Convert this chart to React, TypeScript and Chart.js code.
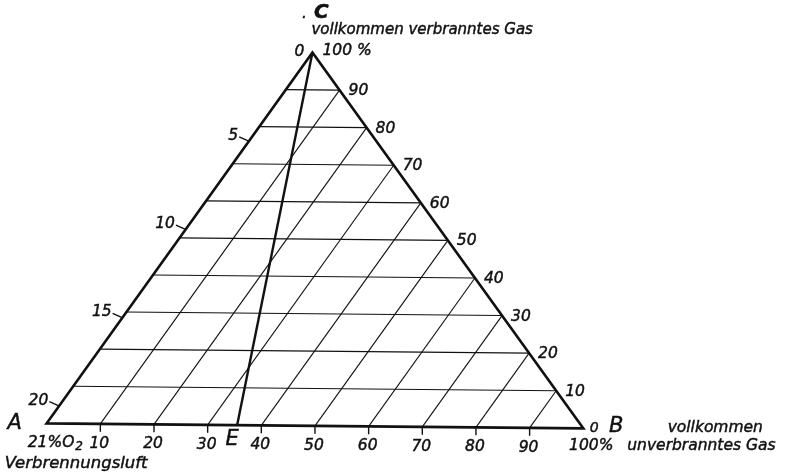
import React, { useEffect, useRef } from "react";
import { Chart, registerables } from "chart.js";

Chart.register(...registerables);

// Completely burnt gas (corner C), percent: horizontal grid lines and right-edge labels
const BURNT_LEVELS = [10, 20, 30, 40, 50, 60, 70, 80, 90];
const BURNT_LABELS = ["10", "20", "30", "40", "50", "60", "70", "80", "90"];
// Unburnt gas (corner B), percent: slanted grid lines and base labels
const UNBURNT_LEVELS = [10, 20, 30, 40, 50, 60, 70, 80, 90];
const UNBURNT_LABELS = ["10", "20", "30", "40", "50", "60", "70", "80", "90"];
// Oxygen scale along the air edge: 0 % at C, 21 % at A
const O2_MAX = 21;
const O2_TICKS = [5, 10, 15, 20];
const O2_LABELS = ["5", "10", "15", "20"];
// Point E on the base (percent unburnt gas), joined to C
const E_UNBURNT = 35.5;

// Triangle corners in chart units (A at the origin)
const CORNER_B = { x: 100, y: -1.35 };
const CORNER_C = { x: 49.53, y: 100 };
// Visible window of the chart
const X_MIN = -8.7;
const X_MAX = 137.78;
const Y_MIN = -13.94;
const Y_MAX = 114.16;

// Ternary point from percent unburnt gas (b) and percent burnt gas (c)
function tern(b: number, c: number) {
  return {
    x: (b / 100) * CORNER_B.x + (c / 100) * CORNER_C.x,
    y: (b / 100) * CORNER_B.y + (c / 100) * CORNER_C.y,
  };
}

const INK = "#111111";
const FONT = '"DejaVu Sans"';

function lineSet(points: { x: number; y: number }[], width: number) {
  return {
    data: points,
    showLine: true,
    borderColor: INK,
    borderWidth: width,
    pointRadius: 0,
    borderJoinStyle: "miter" as const,
    fill: false,
  };
}

const A = tern(0, 0);
const B = tern(100, 0);
const C = tern(0, 100);
const E = tern(E_UNBURNT, 0);

const datasets = [
  ...BURNT_LEVELS.map((c) => lineSet([tern(0, c), tern(100 - c, c)], 1.1)),
  ...UNBURNT_LEVELS.map((b) => lineSet([tern(b, 0), tern(b, 100 - b)], 1.1)),
  lineSet([A, B, C, A, B], 2.7),
  lineSet([C, E], 2.4),
];

const labelPlugin = {
  id: "ternaryLabels",
  afterDatasetsDraw(chart: any) {
    const ctx: CanvasRenderingContext2D = chart.ctx;
    const sx = chart.scales.x;
    const sy = chart.scales.y;
    const px = (p: { x: number; y: number }) => ({
      x: sx.getPixelForValue(p.x),
      y: sy.getPixelForValue(p.y),
    });
    // italic lettering, with a hairline outline for a slightly heavier pen stroke
    const text = (
      s: string,
      x: number,
      y: number,
      size: number,
      align: CanvasTextAlign = "center",
      weight = ""
    ) => {
      ctx.font = `italic ${weight} ${size}px ${FONT}`;
      ctx.textAlign = align;
      ctx.textBaseline = "middle";
      ctx.fillText(s, x, y);
      ctx.lineWidth = 0.45;
      ctx.strokeText(s, x, y);
      return ctx.measureText(s).width;
    };

    ctx.save();
    ctx.fillStyle = INK;
    ctx.strokeStyle = INK;

    // base ticks and labels
    UNBURNT_LEVELS.forEach((b, i) => {
      const p = px(tern(b, 0));
      ctx.lineWidth = 1.4;
      ctx.beginPath();
      ctx.moveTo(p.x, p.y);
      ctx.lineTo(p.x, p.y + 8);
      ctx.stroke();
      text(UNBURNT_LABELS[i], p.x - 1, p.y + 20, 15.5);
    });

    // right edge labels
    BURNT_LEVELS.forEach((c, i) => {
      const p = px(tern(100 - c, c));
      text(BURNT_LABELS[i], p.x + 9, p.y + 1, 15.5, "left");
    });

    // oxygen ticks on the left edge
    O2_TICKS.forEach((o, i) => {
      const p = px(tern(0, 100 - (100 * o) / O2_MAX));
      ctx.lineWidth = 1.4;
      ctx.beginPath();
      ctx.moveTo(p.x - 10, p.y - 4);
      ctx.lineTo(p.x - 1, p.y);
      ctx.stroke();
      text(O2_LABELS[i], p.x - 11, p.y - 5, 15.5, "right");
    });

    // corner C
    const pc = px(C);
    text(".", pc.x - 8, pc.y - 38, 15);
    text("C", pc.x + 9, pc.y - 40, 20, "center", "bold");
    text("vollkommen verbranntes Gas", pc.x - 1, pc.y - 22, 15, "left");
    text("0", pc.x - 13, pc.y - 1, 15.5);
    text("100 %", pc.x + 10, pc.y - 2, 15.5, "left");

    // corner B
    const pb = px(B);
    text("0", pb.x + 11, pb.y, 14);
    text("B", pb.x + 33, pb.y - 2, 21, "center");
    text("100%", pb.x + 8, pb.y + 18, 15.5);
    text("vollkommen", pb.x + 132, pb.y, 15.5);
    text("unverbranntes Gas", pb.x + 44, pb.y + 18, 15.5, "left");

    // corner A
    const pa = px(A);
    text("A", pa.x - 32, pa.y, 21);
    const w = text("21%O", pa.x - 19, pa.y + 20, 15.5, "left");
    text("2", pa.x - 18 + w, pa.y + 24, 12, "left");
    text("Verbrennungsluft", pa.x - 42, pa.y + 40, 16.5, "left");

    // point E
    const pe = px(E);
    text("E", pe.x - 5, pe.y + 14, 21);

    ctx.restore();
  },
};

export default function App() {
  const ref = useRef<HTMLCanvasElement>(null);

  useEffect(() => {
    const canvas = ref.current;
    if (!canvas) return;
    const chart = new Chart(canvas, {
      type: "scatter",
      data: { datasets: datasets as any },
      options: {
        animation: false,
        responsive: false,
        events: [],
        layout: { padding: 0 },
        plugins: {
          legend: { display: false },
          tooltip: { enabled: false },
        },
        scales: {
          x: { type: "linear", display: false, min: X_MIN, max: X_MAX },
          y: { type: "linear", display: false, min: Y_MIN, max: Y_MAX },
        },
      },
      plugins: [labelPlugin],
    });
    return () => chart.destroy();
  }, []);

  return (
    <div style={{ position: "fixed", left: 0, top: 0, width: 786, height: 475, background: "#fff" }}>
      <canvas ref={ref} width={786} height={475} style={{ display: "block" }} />
    </div>
  );
}
